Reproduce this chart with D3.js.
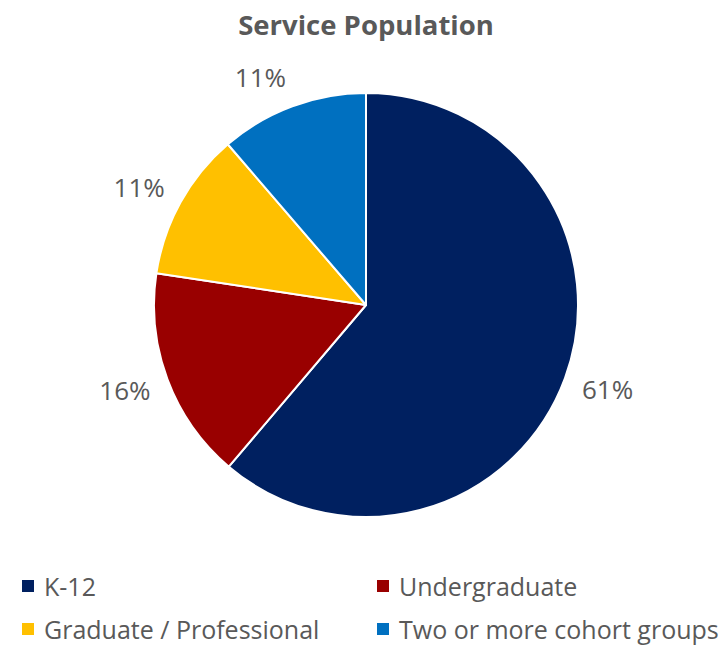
<!DOCTYPE html>
<html>
<head>
<meta charset="utf-8">
<script src="https://cdn.jsdelivr.net/npm/d3@7"></script>
<style>
  html, body { margin: 0; padding: 0; background: #ffffff; }
  svg { display: block; font-family: "Open Sans", "Noto Sans", sans-serif; }
</style>
</head>
<body>
<svg id="chart" width="722" height="646"></svg>
<script>
const title = "Service Population";
const categories = ["K-12", "Undergraduate", "Graduate / Professional", "Two or more cohort groups"];
const values = [61.2, 16.2, 11.3, 11.3];
const labels = ["61%", "16%", "11%", "11%"];
const colors = ["#002060", "#990000", "#FFC000", "#0070C0"];

const svg = d3.select("#chart");
const W = 722, H = 646;
const cx = 366, cy = 305, R = 212;
const textColor = "#595959";

svg.append("text")
  .attr("x", cx).attr("y", 35)
  .attr("text-anchor", "middle")
  .attr("font-size", 27.5).attr("font-weight", 700)
  .attr("fill", textColor)
  .text(title);

const data = categories.map((c, i) => ({ cat: c, value: values[i], label: labels[i], color: colors[i] }));
const pie = d3.pie().value(d => d.value).sort(null);
const arcs = pie(data);
const arc = d3.arc().innerRadius(0).outerRadius(R);

const g = svg.append("g").attr("transform", `translate(${cx},${cy})`);
g.selectAll("path").data(arcs).join("path")
  .attr("d", arc)
  .attr("fill", d => d.data.color)
  .attr("stroke", "#ffffff")
  .attr("stroke-width", 2)
  .attr("stroke-linejoin", "round");

const labelR = 230;
const fs = 26;
g.selectAll("text.lbl").data(arcs).join("text")
  .attr("class", "lbl")
  .each(function(d) {
    const a = (d.startAngle + d.endAngle) / 2;
    const dx = Math.sin(a), dy = -Math.cos(a);
    const ax = dx * labelR, ay = dy * labelR;
    d3.select(this)
      .attr("x", ax)
      .attr("y", ay + dy * fs / 2)
      .attr("text-anchor", dx >= 0 ? "start" : "end");
  })
  .attr("dominant-baseline", "central")
  .attr("font-size", fs)
  .attr("fill", textColor)
  .text(d => d.data.label);

// Legend
const legendX = [22, 377];
const legendY = [586, 629];
const legend = svg.append("g");
data.forEach((d, i) => {
  const col = i % 2, row = Math.floor(i / 2);
  const item = legend.append("g").attr("transform", `translate(${legendX[col]},${legendY[row]})`);
  item.append("rect").attr("x", 0).attr("y", -6).attr("width", 12).attr("height", 12).attr("fill", d.color);
  item.append("text").attr("x", 22).attr("y", 0)
    .attr("dominant-baseline", "central")
    .attr("font-size", 25).attr("fill", textColor)
    .text(d.cat);
});
</script>
</body>
</html>
